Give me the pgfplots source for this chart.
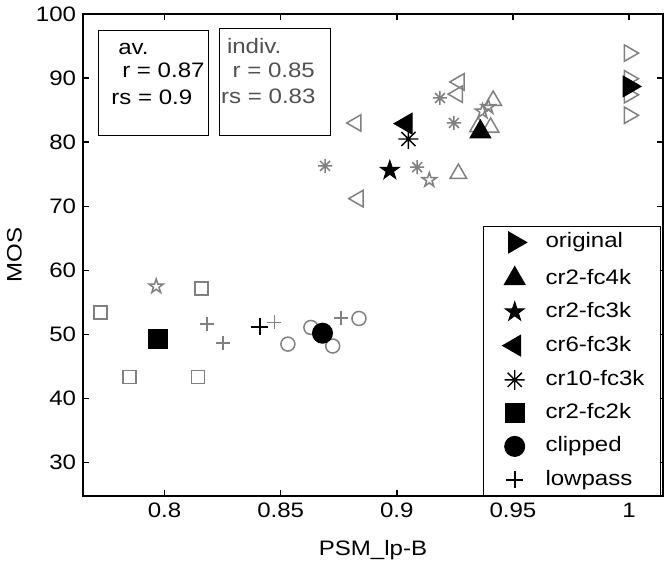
\documentclass[border=0pt]{standalone}
\usepackage{pgfplots}
\pgfplotsset{compat=1.18}
\usepackage{fontspec}
\setmainfont{Liberation Sans}[FakeStretch=1.15]

\definecolor{mgray}{RGB}{128,128,128}
\definecolor{tgray}{RGB}{80,80,80}

% matlab style pentagram (open and filled)
\pgfdeclareplotmark{pent}{%
  \pgfpathmoveto{\pgfqpoint{0pt}{\pgfplotmarksize}}%
  \pgfpathlineto{\pgfqpoint{-0.2245\pgfplotmarksize}{0.309\pgfplotmarksize}}%
  \pgfpathlineto{\pgfqpoint{-0.951\pgfplotmarksize}{0.309\pgfplotmarksize}}%
  \pgfpathlineto{\pgfqpoint{-0.3633\pgfplotmarksize}{-0.118\pgfplotmarksize}}%
  \pgfpathlineto{\pgfqpoint{-0.588\pgfplotmarksize}{-0.809\pgfplotmarksize}}%
  \pgfpathlineto{\pgfqpoint{0pt}{-0.382\pgfplotmarksize}}%
  \pgfpathlineto{\pgfqpoint{0.588\pgfplotmarksize}{-0.809\pgfplotmarksize}}%
  \pgfpathlineto{\pgfqpoint{0.3633\pgfplotmarksize}{-0.118\pgfplotmarksize}}%
  \pgfpathlineto{\pgfqpoint{0.951\pgfplotmarksize}{0.309\pgfplotmarksize}}%
  \pgfpathlineto{\pgfqpoint{0.2245\pgfplotmarksize}{0.309\pgfplotmarksize}}%
  \pgfpathclose
  \pgfusepathqstroke}
\pgfdeclareplotmark{pent*}{%
  \pgfpathmoveto{\pgfqpoint{0pt}{\pgfplotmarksize}}%
  \pgfpathlineto{\pgfqpoint{-0.2245\pgfplotmarksize}{0.309\pgfplotmarksize}}%
  \pgfpathlineto{\pgfqpoint{-0.951\pgfplotmarksize}{0.309\pgfplotmarksize}}%
  \pgfpathlineto{\pgfqpoint{-0.3633\pgfplotmarksize}{-0.118\pgfplotmarksize}}%
  \pgfpathlineto{\pgfqpoint{-0.588\pgfplotmarksize}{-0.809\pgfplotmarksize}}%
  \pgfpathlineto{\pgfqpoint{0pt}{-0.382\pgfplotmarksize}}%
  \pgfpathlineto{\pgfqpoint{0.588\pgfplotmarksize}{-0.809\pgfplotmarksize}}%
  \pgfpathlineto{\pgfqpoint{0.3633\pgfplotmarksize}{-0.118\pgfplotmarksize}}%
  \pgfpathlineto{\pgfqpoint{0.951\pgfplotmarksize}{0.309\pgfplotmarksize}}%
  \pgfpathlineto{\pgfqpoint{0.2245\pgfplotmarksize}{0.309\pgfplotmarksize}}%
  \pgfpathclose
  \pgfusepathqfillstroke}
% matlab style asterisk: + and x on top of each other
\pgfdeclareplotmark{ast8}{%
  \pgfpathmoveto{\pgfqpoint{0pt}{\pgfplotmarksize}}%
  \pgfpathlineto{\pgfqpoint{0pt}{-\pgfplotmarksize}}%
  \pgfpathmoveto{\pgfqpoint{\pgfplotmarksize}{0pt}}%
  \pgfpathlineto{\pgfqpoint{-\pgfplotmarksize}{0pt}}%
  \pgfpathmoveto{\pgfqpoint{0.707\pgfplotmarksize}{0.707\pgfplotmarksize}}%
  \pgfpathlineto{\pgfqpoint{-0.707\pgfplotmarksize}{-0.707\pgfplotmarksize}}%
  \pgfpathmoveto{\pgfqpoint{-0.707\pgfplotmarksize}{0.707\pgfplotmarksize}}%
  \pgfpathlineto{\pgfqpoint{0.707\pgfplotmarksize}{-0.707\pgfplotmarksize}}%
  \pgfusepathqstroke}

\pgfplotsset{
  indiv/.style={only marks, forget plot, mgray, line width=1.5bp, mark size=7bp},
  avg/.style={only marks, black, line width=1bp, mark options={fill=black, draw=black}},
}

\begin{document}
\fontsize{21}{25}\selectfont
\begin{tikzpicture}
\begin{axis}[
    scale only axis,
    width=579.4bp, height=481.7bp,
    xmin=0.765, xmax=1.0145,
    ymin=24.85, ymax=100,
    xtick={0.8,0.85,0.9,0.95,1},
    ytick={30,40,50,60,70,80,90,100},
    axis line style={line width=1.8bp},
    major tick style={line width=1.5bp, black},
    major tick length=6bp,
    tick align=inside,
    /pgf/number format/assume math mode=true,
    ticklabel style={font=\fontsize{21}{25}\selectfont},
    label style={font=\fontsize{21}{25}\selectfont},
    xlabel={PSM\_lp-B},
    xlabel style={yshift=-9bp},
    ylabel={MOS},
    legend style={
        at={(axis description cs:0.997,0)}, anchor=south east,
        draw=black, line width=1bp, fill=white,
        font=\fontsize{21}{25}\selectfont,
        inner xsep=16bp, inner ysep=6bp,
        row sep=13.8bp, column sep=16bp,
        nodes={inner sep=0pt, text height=15bp, text depth=4bp},
    },
    legend cell align=left,
    legend image code/.code={
        \path (-14bp,0bp) (14bp,0bp);
        \draw[#1] plot coordinates {(0bp,0bp)};
    },
]

% individual listeners (grey, open markers)
\addplot[indiv, mark=triangle, mark size=9.5bp, mark options={rotate=-90}] coordinates {
(1,93.9) (1,89.9) (1,87.4) (1,84.2)};
\addplot[indiv, mark=triangle, mark size=9.5bp] coordinates {
(0.9415,86.5) (0.9404,82.3) (0.9265,75.1) (0.935,82.4)};
\addplot[indiv, mark=pent, mark size=7.5bp] coordinates {
(0.9369,84.8) (0.9394,85.5) (0.914,74.1) (0.7964,57.5)};
\addplot[indiv, mark=triangle, mark size=9.5bp, mark options={rotate=90}] coordinates {
(0.8825,83.0) (0.8834,71.2) (0.9269,89.4) (0.9262,87.5)};
\addplot[indiv, mark=ast8] coordinates {
(0.8691,76.3) (0.9088,76.1) (0.9246,83.0) (0.9186,86.9)};
\addplot[indiv, mark=square, mark size=6.5bp] coordinates {
(0.7723,53.4) (0.7849,43.4) (0.8158,57.2) (0.8144,43.4)};
\addplot[indiv, mark=o] coordinates {
(0.863,51.1) (0.8531,48.5) (0.8724,48.2) (0.8837,52.5)};
\addplot[indiv, mark=+] coordinates {
(0.8182,51.6) (0.8251,48.7) (0.8473,51.9) (0.876,52.6)};

% averages (black, filled markers)
\addplot[avg, mark=triangle*, mark size=12bp, mark options={rotate=-90}] coordinates {(1,88.7)};
\addlegendentry{original}
\addplot[avg, mark=triangle*, mark size=12bp] coordinates {(0.936,81.6)};
\addlegendentry{cr2-fc4k}
\addplot[avg, mark=pent*, mark size=10bp] coordinates {(0.897,75.6)};
\addlegendentry{cr2-fc3k}
\addplot[avg, mark=triangle*, mark size=12bp, mark options={rotate=90}] coordinates {(0.904,82.9)};
\addlegendentry{cr6-fc3k}
\addplot[avg, mark=ast8, mark size=10bp, line width=1.4bp] coordinates {(0.905,80.5)};
\addlegendentry{cr10-fc3k}
\addplot[avg, mark=square*, mark size=9.5bp] coordinates {(0.797,49.3)};
\addlegendentry{cr2-fc2k}
\addplot[avg, mark=*, mark size=10bp] coordinates {(0.868,50.2)};
\addlegendentry{clipped}
\addplot[avg, mark=+, mark size=8.5bp, line width=1.6bp] coordinates {(0.841,51.2)};
\addlegendentry{lowpass}

% correlation text boxes
\draw[black, line width=1bp] (axis cs:0.7714,97.39) rectangle (axis cs:0.8189,81.12);
\draw[black, line width=1bp] (axis cs:0.8237,97.8) rectangle (axis cs:0.8713,81.12);
\node[anchor=west, inner sep=0pt] at (axis cs:0.780,94.49) {av.};
\node[anchor=west, inner sep=0pt] at (axis cs:0.7817,91.14) {r = 0.87};
\node[anchor=west, inner sep=0pt] at (axis cs:0.777,87.05) {rs = 0.9};
\node[anchor=west, inner sep=0pt, text=tgray] at (axis cs:0.8268,94.96) {indiv.};
\node[anchor=west, inner sep=0pt, text=tgray] at (axis cs:0.8292,91.14) {r = 0.85};
\node[anchor=west, inner sep=0pt, text=tgray] at (axis cs:0.8243,87.1) {rs = 0.83};
\end{axis}
\pgfresetboundingbox
\path (current axis.south west) ++(-83.3bp,-66.3bp) coordinate (bbl);
\path (current axis.north east) ++(9.3bp,14bp) coordinate (btr);
\useasboundingbox (bbl) rectangle (btr);
\end{tikzpicture}
\end{document}
